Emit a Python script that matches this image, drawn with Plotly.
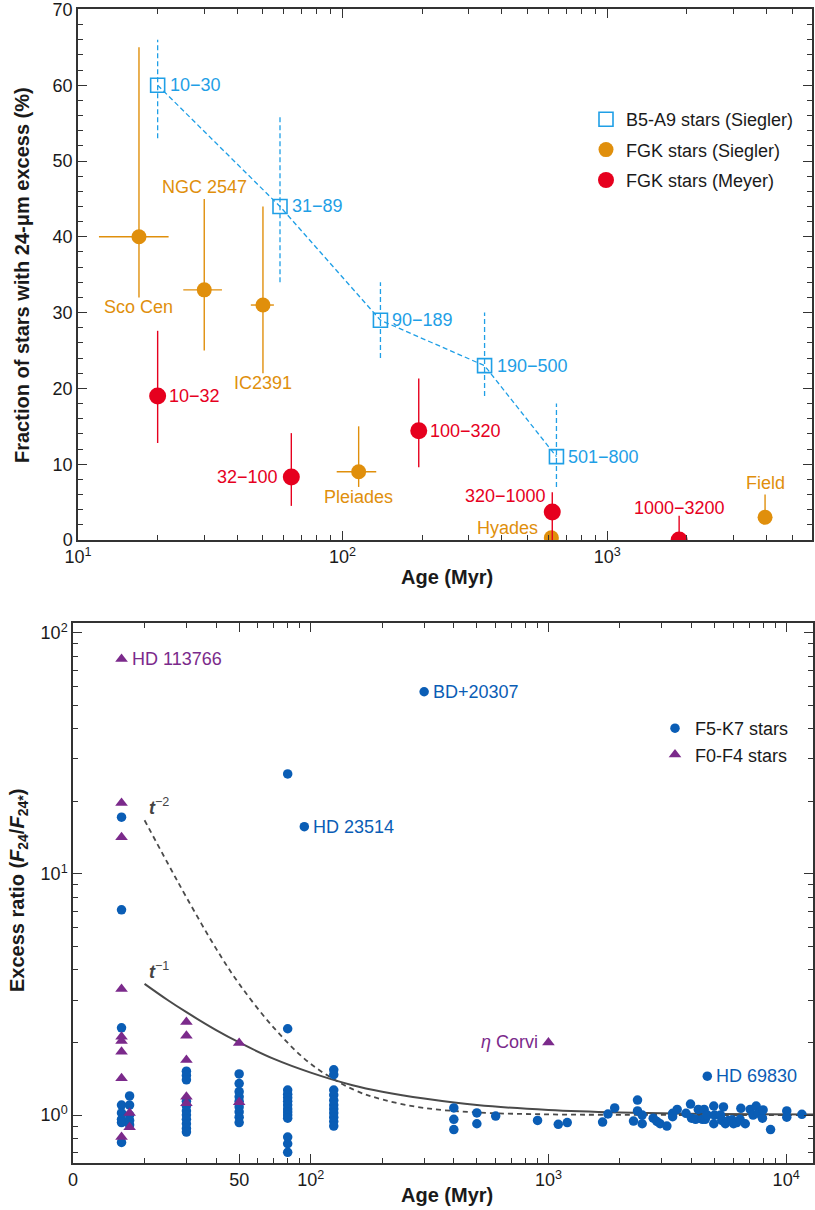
import numpy as np
import plotly.graph_objects as go

# ---------------- top panel data ----------------
ba_labels = ["10−30", "31−89", "90−189", "190−500", "501−800"]
ba_age = [20, 58, 139, 344, 643]
ba_frac = [60, 44, 29, 23, 11]
ba_hi = [66, 56, 34, 30, 18]
ba_lo = [53, 34, 24, 19, 7]

sg_names = ["Sco Cen", "NGC 2547", "IC2391", "Pleiades", "Hyades", "Field"]
sg_age = [17, 30, 50, 115, 615, 3950]
sg_frac = [40, 33, 31, 9, 0.3, 3]
sg_hi = [65, 45, 44, 15, 0.3, 6]
sg_lo = [32, 25, 22, 7, 0.3, 3]
sg_age_lo = [12, 25, 45, 95, 615, 3950]
sg_age_hi = [22, 35, 55, 134, 615, 3950]

my_labels = ["10−32", "32−100", "100−320", "320−1000", "1000−3200"]
my_age = [20, 64, 194, 620, 1870]
my_frac = [19, 8.3, 14.4, 3.7, 0]
my_hi = [27.6, 14.1, 21.3, 6.3, 3.2]
my_lo = [12.8, 4.5, 9.6, 0, 0]

# ---------------- bottom panel data ----------------
cluster_ages = [16, 17.3, 30, 50, 80, 125]
cluster_ratios = [
    [17.2, 7.1, 2.30, 1.10, 1.02, 0.96, 0.93, 0.77],
    [1.20, 1.10, 1.00, 0.95, 0.91],
    [1.52, 1.46, 1.40, 1.14, 1.09, 1.04, 1.00, 0.96, 0.92, 0.88, 0.85],
    [1.48, 1.35, 1.25, 1.19, 1.14, 1.08, 1.03, 0.98, 0.93],
    [26.0, 2.28, 1.27, 1.22, 1.18, 1.14, 1.10, 1.06, 1.03, 1.00, 0.97, 0.81, 0.76, 0.70],
    [1.54, 1.47, 1.27, 1.21, 1.15, 1.10, 1.06, 1.02, 0.98, 0.94, 0.90],
]
field_age = [400, 400, 400, 500, 500, 600, 900, 1100, 1200, 1690, 1780, 1900,
             2280, 2370, 2370, 2480, 2480, 2760, 2860, 2950, 3150, 3330, 3330,
             3480, 3790, 3960, 4000, 4160, 4270, 4440, 4520, 4566, 4660, 4960,
             4960, 5000, 5300, 5360, 5450, 5550, 5720, 5920, 6010, 6200, 6400,
             6450, 6730, 7060, 7260, 7480, 7650, 7950, 8000, 8600, 10060, 10060, 11650]
field_ratio = [1.07, 0.96, 0.87, 1.02, 0.92, 0.99, 0.95, 0.915, 0.93, 0.935, 1.01, 1.07,
               0.944, 1.154, 1.04, 1.0, 0.92, 0.97, 0.94, 0.92, 0.90, 1.016, 0.984,
               1.055, 1.016, 1.11, 0.97, 0.96, 1.055, 0.96, 1.055, 0.96, 1.0, 1.09,
               0.92, 1.0, 1.0, 0.95, 1.08, 0.92, 0.95, 0.955, 0.92, 0.93, 0.96,
               1.066, 0.92, 1.055, 1.0, 1.09, 1.016, 0.97, 1.05, 0.87, 1.04, 0.98, 1.007]

named_fk = ["HD 23514", "BD+20307", "HD 69830"]
named_fk_age = [94, 300, 4660]
named_fk_ratio = [15.7, 57.0, 1.45]

tri_age = [16, 16, 16, 16, 16, 16, 16, 16, 16, 17.3, 17.3, 30, 30, 30, 30, 30, 50, 50]
tri_ratio = [78, 19.7, 14.2, 3.33, 2.11, 2.03, 1.83, 1.42, 0.81, 1.02, 0.89,
             2.43, 2.13, 1.69, 1.19, 1.12, 1.99, 1.13]
named_tri = ["HD 113766", "<i>η</i> Corvi"]
named_tri_age = [16, 1000]
named_tri_ratio = [78, 2.0]

curve_age = [20, 25, 30, 40, 50, 70, 100, 150, 200, 300, 500, 1000, 2000, 5000, 13000]
t1_ratio = [3.5, 3.0, 2.67, 2.25, 2.0, 1.71, 1.5, 1.33, 1.25, 1.17, 1.10, 1.05, 1.025, 1.01, 1.004]
t2_ratio = [16.7, 11.1, 8.0, 4.9, 3.5, 2.3, 1.63, 1.28, 1.16, 1.07, 1.025, 1.006, 1.002, 1.0, 1.0]
ref_levels = [1.0, 1.15]

# ---------------- styles ----------------
FONT = "Liberation Sans, Arial, sans-serif"
C_BA = "#1f9fe6"
C_SG = "#e08f0c"
C_MY = "#e6001e"
C_FK = "#0a5db5"
C_TRI = "#7b2a8b"
AX = "#333333"
W, H = 815, 1210

fig = go.Figure()

# top: blue dashed connection
fig.add_trace(go.Scatter(x=ba_age, y=ba_frac, mode="lines", xaxis="x", yaxis="y",
                         line=dict(color=C_BA, width=1.3, dash="5px,3px"),
                         showlegend=False, hoverinfo="skip"))
ex, ey = [], []
for a, lo, hi in zip(ba_age, ba_lo, ba_hi):
    ex += [a, a, None]
    ey += [lo, hi, None]
fig.add_trace(go.Scatter(x=ex, y=ey, mode="lines", xaxis="x", yaxis="y",
                         line=dict(color=C_BA, width=1.3, dash="5px,3px"),
                         showlegend=False, hoverinfo="skip"))
fig.add_trace(go.Scatter(x=ba_age, y=ba_frac, mode="markers", xaxis="x", yaxis="y",
                         name="B5-A9 stars (Siegler)", legend="legend", legendgroup="a",
                         marker=dict(symbol="square-open", size=14, color=C_BA,
                                     line=dict(width=1.6, color=C_BA))))
fig.add_trace(go.Scatter(
    x=sg_age, y=sg_frac, mode="markers", xaxis="x", yaxis="y",
    name="FGK stars (Siegler)", legend="legend", legendgroup="b",
    marker=dict(symbol="circle", size=15, color=C_SG),
    error_y=dict(type="data", symmetric=False,
                 array=[h - v for h, v in zip(sg_hi, sg_frac)],
                 arrayminus=[v - l for l, v in zip(sg_lo, sg_frac)],
                 color=C_SG, thickness=1.4, width=0),
    error_x=dict(type="data", symmetric=False,
                 array=[h - v for h, v in zip(sg_age_hi, sg_age)],
                 arrayminus=[v - l for l, v in zip(sg_age_lo, sg_age)],
                 color=C_SG, thickness=1.4, width=0)))
fig.add_trace(go.Scatter(
    x=my_age, y=my_frac, mode="markers", xaxis="x", yaxis="y",
    name="FGK stars (Meyer)", legend="legend", legendgroup="c",
    marker=dict(symbol="circle", size=17, color=C_MY),
    error_y=dict(type="data", symmetric=False,
                 array=[h - v for h, v in zip(my_hi, my_frac)],
                 arrayminus=[v - l for l, v in zip(my_lo, my_frac)],
                 color=C_MY, thickness=1.4, width=0)))

# bottom: curves
fig.add_trace(go.Scatter(x=curve_age, y=t2_ratio, mode="lines", xaxis="x2", yaxis="y2",
                         line=dict(color="#4a4a4a", width=1.8, dash="5px,4px", shape="spline"),
                         showlegend=False, hoverinfo="skip"))
fig.add_trace(go.Scatter(x=curve_age, y=t1_ratio, mode="lines", xaxis="x2", yaxis="y2",
                         line=dict(color="#4a4a4a", width=2, shape="spline"),
                         showlegend=False, hoverinfo="skip"))

fk_x, fk_y = [], []
for a, rs in zip(cluster_ages, cluster_ratios):
    fk_x += [a] * len(rs)
    fk_y += rs
fk_x += field_age + named_fk_age
fk_y += field_ratio + named_fk_ratio
fig.add_trace(go.Scatter(x=fk_x, y=fk_y, mode="markers", xaxis="x2", yaxis="y2",
                         name="F5-K7 stars", legend="legend2", legendgroup="d",
                         marker=dict(symbol="circle", size=9.5, color=C_FK)))
fig.add_trace(go.Scatter(x=tri_age + named_tri_age[1:], y=tri_ratio + named_tri_ratio[1:],
                         mode="markers", xaxis="x2", yaxis="y2",
                         name="F0-F4 stars", legend="legend2", legendgroup="e",
                         marker=dict(symbol="triangle-up", size=11, color=C_TRI)))

ann = []


def lab(x, y, text, color, xr, yr, dx=0, dy=0, anchor="center", size=18):
    ann.append(dict(x=x, y=y, xref=xr, yref=yr, text=text, showarrow=False,
                    xanchor=anchor, yanchor="middle", xshift=dx, yshift=dy,
                    font=dict(family=FONT, size=size, color=color)))


for a, v, t in zip(ba_age, ba_frac, ba_labels):
    lab(np.log10(a), v, t, C_BA, "x", "y", dx=10, anchor="left")

sg_off = [(0, -70, "center"), (0, 103, "center"), (0, -78, "center"),
          (0, -25, "center"), (-44, 10, "center"), (0, 34, "center")]
for a, v, t, (dx, dy, an) in zip(sg_age, sg_frac, sg_names, sg_off):
    lab(np.log10(a), v, t, C_SG, "x", "y", dx=dx, dy=dy, anchor=an)

my_off = [(9, 0, "left"), (-11, 0, "right"), (9, 0, "left"), (-47, 16, "center"), (0, 32, "center")]
for a, v, t, (dx, dy, an) in zip(my_age, my_frac, my_labels, my_off):
    lab(np.log10(a), v, t, C_MY, "x", "y", dx=dx, dy=dy, anchor=an)

for a, v, t in zip(named_fk_age, named_fk_ratio, named_fk):
    lab(np.log10(a), np.log10(v), t, C_FK, "x2", "y2", dx=7, anchor="left")
tri_off = [(8, "left"), (-8, "right")]
for a, v, t, (dx, an) in zip(named_tri_age, named_tri_ratio, named_tri, tri_off):
    lab(np.log10(a), np.log10(v), t, C_TRI, "x2", "y2", dx=dx, anchor=an)

lab(np.log10(curve_age[0]), np.log10(t2_ratio[0]), "<b><i>t</i></b><sup>−2</sup>", "#444444",
    "x2", "y2", dx=2, dy=14, anchor="left", size=18)
lab(np.log10(curve_age[0]), np.log10(t1_ratio[0]), "<b><i>t</i></b><sup>−1</sup>", "#444444",
    "x2", "y2", dx=2, dy=13, anchor="left", size=18)

# axis titles
TF = dict(family=FONT, size=20, color="#1a1a1a")
ann.append(dict(x=447 / W, y=1 - 577 / H, xref="paper", yref="paper", showarrow=False,
                text="<b>Age (Myr)</b>", font=TF, xanchor="center", yanchor="middle"))
ann.append(dict(x=447 / W, y=1 - 1195 / H, xref="paper", yref="paper", showarrow=False,
                text="<b>Age (Myr)</b>", font=TF, xanchor="center", yanchor="middle"))
ann.append(dict(x=22 / W, y=1 - 275 / H, xref="paper", yref="paper", showarrow=False,
                text="<b>Fraction of stars with 24-μm excess (%)</b>", textangle=-90,
                font=TF, xanchor="center", yanchor="middle"))
ann.append(dict(x=18 / W, y=1 - 891 / H, xref="paper", yref="paper", showarrow=False,
                text="<b>Excess ratio (<i>F</i><sub>24</sub>/<i>F</i><sub>24*</sub>)</b>",
                textangle=-90, font=TF, xanchor="center", yanchor="middle"))

shapes = []
for lv in ref_levels:
    shapes.append(dict(type="line", xref="x2 domain", yref="y2", x0=0, x1=1,
                       y0=np.log10(lv), y1=np.log10(lv),
                       line=dict(color="#a0a0a0", width=1.5, dash="dot"), layer="below"))

TICKF = dict(family=FONT, size=18, color="#1a1a1a")
common = dict(showline=True, linecolor=AX, linewidth=1.5, mirror="allticks",
              ticks="inside", ticklen=9, tickwidth=1.3, tickcolor=AX,
              showgrid=False, zeroline=False, tickfont=TICKF, automargin=False,
              ticklabeloverflow="allow")


def minors(vals, ln=5):
    return dict(tickvals=vals, ticks="inside", ticklen=ln, tickwidth=1.1,
                tickcolor=AX, showgrid=False)


top_minor_x = [20, 30, 40, 50, 60, 70, 80, 90, 200, 300, 400, 500, 600, 700, 800, 900,
               2000, 3000, 4000, 5000]
bot_minor_x = [20, 30, 40, 60, 70, 80, 90, 200, 300, 400, 500, 600, 700, 800, 900,
               2000, 3000, 4000, 5000, 6000, 7000, 8000, 9000]
bot_minor_y = [0.7, 0.8, 0.9, 2, 3, 4, 5, 6, 7, 8, 9, 20, 30, 40, 50, 60, 70, 80, 90]

fig.update_layout(
    width=W, height=H, margin=dict(l=0, r=0, t=0, b=0),
    paper_bgcolor="white", plot_bgcolor="white",
    font=dict(family=FONT),
    xaxis=dict(type="log", range=[1, 3.774], domain=[78 / W, 812 / W], anchor="y",
               tickvals=[10, 100, 1000],
               ticktext=["10<sup>1</sup>", "10<sup>2</sup>", "10<sup>3</sup>"],
               minor=minors(top_minor_x), **common),
    yaxis=dict(range=[0, 70.03], domain=[1 - 540 / H, 1 - 9.2 / H], anchor="x",
               tickvals=[0, 10, 20, 30, 40, 50, 60, 70],
               minor=minors([v for v in range(2, 70, 2) if v % 10]), **common),
    xaxis2=dict(type="log", range=[1, 4.113], domain=[73 / W, 813 / W], anchor="y2",
                tickvals=[10, 50, 100, 1000, 10000],
                ticktext=["0", "50", "10<sup>2</sup>", "10<sup>3</sup>", "10<sup>4</sup>"],
                minor=minors(bot_minor_x), **common),
    yaxis2=dict(type="log", range=[-0.199, 2.041], domain=[1 - 1163 / H, 1 - 623 / H],
                anchor="x2", tickvals=[1, 10, 100],
                ticktext=["10<sup>0</sup>", "10<sup>1</sup>", "10<sup>2</sup>"],
                minor=minors(bot_minor_y), **common),
    legend=dict(x=586 / W, y=1 - 101 / H, xanchor="left", yanchor="top",
                font=dict(family=FONT, size=18, color="#1a1a1a"),
                bgcolor="rgba(0,0,0,0)", tracegroupgap=4, traceorder="grouped"),
    legend2=dict(x=655 / W, y=1 - 710 / H, xanchor="left", yanchor="top",
                 font=dict(family=FONT, size=18, color="#1a1a1a"),
                 bgcolor="rgba(0,0,0,0)", tracegroupgap=0, traceorder="grouped"),
    annotations=ann, shapes=shapes,
)

fig.write_html("out.html")
